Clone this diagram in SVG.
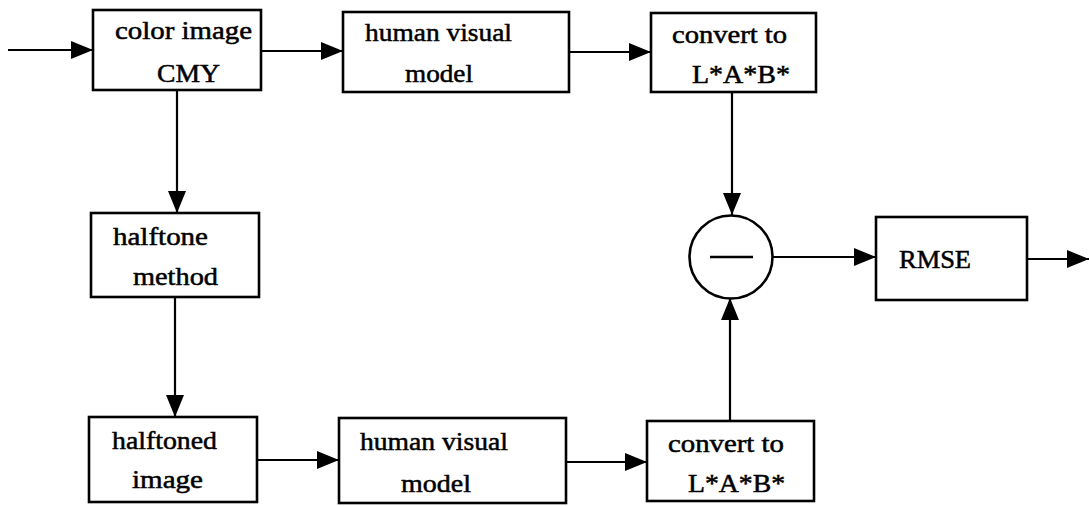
<svg xmlns="http://www.w3.org/2000/svg" width="1089" height="506" viewBox="0 0 1089 506">
<style>
.box{fill:#fff;stroke:#000;stroke-width:2.6}
.ln{fill:none;stroke:#000;stroke-width:2.2}
text{font-family:"Liberation Serif","Times New Roman",serif;font-size:25px;fill:#000;stroke:#000;stroke-width:0.5}
</style>
<defs>
<marker id="ah" markerUnits="userSpaceOnUse" markerWidth="24" markerHeight="18" refX="22" refY="9" orient="auto">
<path d="M0,0 L22,9 L0,18 Z" fill="#000"/>
</marker>
</defs>
<rect width="1089" height="506" fill="#fff"/>
<g id="connectors">
<line class="ln" x1="8" y1="50" x2="93" y2="50" marker-end="url(#ah)"/>
<line class="ln" x1="261" y1="51" x2="343" y2="51" marker-end="url(#ah)"/>
<line class="ln" x1="569" y1="52" x2="651" y2="52" marker-end="url(#ah)"/>
<line class="ln" x1="177" y1="90" x2="177" y2="213" marker-end="url(#ah)"/>
<line class="ln" x1="175" y1="297" x2="175" y2="417" marker-end="url(#ah)"/>
<line class="ln" x1="257" y1="460" x2="339" y2="460" marker-end="url(#ah)"/>
<line class="ln" x1="566" y1="462" x2="647" y2="462" marker-end="url(#ah)"/>
<line class="ln" x1="732" y1="92" x2="732" y2="215" marker-end="url(#ah)"/>
<line class="ln" x1="730" y1="421" x2="730" y2="298" marker-end="url(#ah)"/>
<line class="ln" x1="773" y1="257" x2="876" y2="257" marker-end="url(#ah)"/>
<line class="ln" x1="1027" y1="259" x2="1089" y2="259" marker-end="url(#ah)"/>
</g>
<g id="color-image">
<rect class="box" x="93" y="10" width="168" height="80"/>
<text x="115" y="39" textLength="137" lengthAdjust="spacingAndGlyphs">color image</text>
<text x="157" y="82" textLength="63" lengthAdjust="spacingAndGlyphs">CMY</text>
</g>
<g id="hvm-top">
<rect class="box" x="343" y="12" width="226" height="80"/>
<text x="365" y="41" textLength="147" lengthAdjust="spacingAndGlyphs">human visual</text>
<text x="405" y="82" textLength="68" lengthAdjust="spacingAndGlyphs">model</text>
</g>
<g id="convert-top">
<rect class="box" x="651" y="13" width="165" height="79"/>
<text x="672" y="43" textLength="115" lengthAdjust="spacingAndGlyphs">convert to</text>
<text x="692" y="83" textLength="98" lengthAdjust="spacingAndGlyphs">L*A*B*</text>
</g>
<g id="halftone-method">
<rect class="box" x="91" y="213" width="168" height="84"/>
<text x="113" y="245" textLength="95" lengthAdjust="spacingAndGlyphs">halftone</text>
<text x="133" y="285" textLength="85" lengthAdjust="spacingAndGlyphs">method</text>
</g>
<g id="halftoned-image">
<rect class="box" x="89" y="417" width="168" height="85"/>
<text x="112" y="449" textLength="105" lengthAdjust="spacingAndGlyphs">halftoned</text>
<text x="132" y="488" textLength="71" lengthAdjust="spacingAndGlyphs">image</text>
</g>
<g id="hvm-bottom">
<rect class="box" x="339" y="418" width="227" height="85"/>
<text x="360" y="450" textLength="148" lengthAdjust="spacingAndGlyphs">human visual</text>
<text x="401" y="492" textLength="70" lengthAdjust="spacingAndGlyphs">model</text>
</g>
<g id="convert-bottom">
<rect class="box" x="647" y="421" width="167" height="80"/>
<text x="668" y="452" textLength="116" lengthAdjust="spacingAndGlyphs">convert to</text>
<text x="688" y="492" textLength="97" lengthAdjust="spacingAndGlyphs">L*A*B*</text>
</g>
<g id="subtract">
<circle cx="731" cy="257" r="41.5" fill="#fff" stroke="#000" stroke-width="2.6"/>
<line x1="710" y1="257" x2="753" y2="257" stroke="#000" stroke-width="2.6"/>
</g>
<g id="rmse">
<rect class="box" x="876" y="217" width="151" height="83"/>
<text x="899" y="268" textLength="72" lengthAdjust="spacingAndGlyphs">RMSE</text>
</g>
</svg>
